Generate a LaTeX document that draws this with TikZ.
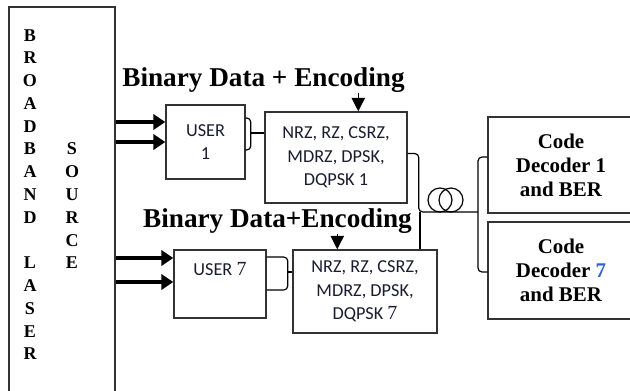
\documentclass[tikz,border=0pt]{standalone}
\usepackage{fontspec}
\setmainfont{Liberation Serif}
\newfontfamily\calibfont{Carlito}
\usepackage{tikz}
\usetikzlibrary{arrows.meta, positioning, calc}
\definecolor{bxline}{HTML}{333333}
\definecolor{encnavy}{HTML}{1A1D30}
\definecolor{decblue}{HTML}{2F62C8}

\begin{document}
\begin{tikzpicture}[x=0.75pt, y=-0.75pt,
  box/.style={draw=bxline, line width=1.1pt, fill=white, inner sep=0pt},
  enctext/.style={font=\calibfont\fontsize{13.7}{17.6}\selectfont, text=encnavy, align=center},
  dectext/.style={font=\bfseries\fontsize{15.7}{18}\selectfont, align=center},
  headline/.style={font=\bfseries\fontsize{20.4}{24}\selectfont, inner sep=0pt},
  lettertext/.style={font=\bfseries\fontsize{13.5}{14}\selectfont, inner sep=0pt},
  fatarrow/.style={line width=3pt, -{Triangle[length=9pt, width=11.5pt]}},
  downarrow/.style={line width=0.8pt, -{Triangle[length=10pt, width=10pt]}},
  wire/.style={line width=0.9pt, rounded corners=3pt}]
  \useasboundingbox (0,0) rectangle (630,390);
  % laser source
  \node[box, minimum width=79.5pt, minimum height=288.75pt] (laser) at (62,199.5) {};
  \foreach \ch [count=\k from 0] in {B,R,O,A,D,B,A,N,D,{},L,A,S,E,R}
    \node[lettertext] (bl\k) at (30,{35.3+22.76*\k}) {\ch};
  \foreach \ch [count=\k from 5] in {S,O,U,R,C,E}
    \node[lettertext] (sr\k) at (72,{35.3+22.76*\k}) {\ch};
  % user blocks
  \node[box, enctext, minimum width=59.25pt, minimum height=55.5pt] (user1) at (205.5,142) {USER\\1};
  \node[box, enctext, minimum width=69pt, minimum height=51pt] (user7) at (220,284) {USER {\rmfamily\fontsize{15}{17.6}\selectfont 7}\\\strut};
  % encoders
  \node[box, enctext, minimum width=106.5pt, minimum height=68.25pt] (enc1) at (336,157.5) {NRZ, RZ, CSRZ,\\MDRZ, DPSK,\\DQPSK 1};
  \node[box, enctext, minimum width=108pt, minimum height=62.25pt] (enc7) at (365,291.5) {NRZ, RZ, CSRZ,\\MDRZ, DPSK,\\DQPSK {\rmfamily\fontsize{15}{17.6}\selectfont 7}};
  % decoders
  \node[box, dectext, minimum width=109.5pt, minimum height=72pt] (dec1) at (561,165) {Code\\Decoder 1\\and BER};
  \node[box, dectext, minimum width=109.5pt, minimum height=72.75pt] (dec7) at (561,270.5) {Code\\Decoder {\color{decblue}7}\\and BER};
  % titles
  \node[headline] (title1) at (263.5,80) {Binary Data + Encoding};
  \node[headline] (title7) at (277.5,221.5) {Binary Data+Encoding};
  \coordinate (tip1) at ($(enc1.north west)+(94,0)$);
  \coordinate (tip7) at ($(enc7.north west)+(45,0)$);
  \draw[downarrow] (tip1 |- title1.south) -- (tip1);
  \draw[downarrow] (tip7 |- title7.south) -- (tip7);
  % laser to users
  \coordinate (u1a) at ($(user1.west)+(0,-20)$);
  \coordinate (u1b) at (user1.west);
  \coordinate (u7a) at ($(user7.west)+(0,-26)$);
  \coordinate (u7b) at ($(user7.west)+(0,-2)$);
  \foreach \p in {u1a,u1b,u7a,u7b}
    \draw[fatarrow] (laser.east |- \p) -- (\p);
  % braces
  \draw[wire] ($(user1.east)+(0,-24)$) -- ++(5,0) -- ++(0,32) -- ++(-5,0);
  \coordinate (br1) at ($(user1.east)+(5,-9)$);
  \draw[wire] (br1) -- (br1 -| enc1.west);
  \draw[wire] ($(user7.east)+(0,-27)$) -- ++(21,0) -- ++(0,33) -- ++(-21,0);
  \coordinate (br7) at ($(user7.east)+(21,-12)$);
  \draw[wire] (br7) -- (br7 -| enc7.west);
  % fibre and splitter
  \coordinate (split) at (478,212);
  \coordinate (out7) at ($(enc7.north)+(55,0)$);
  \draw[wire] ($(enc1.east)+(0,-4)$) -- ($(enc1.east)+(11,-4)$) |- (split);
  \draw[wire] (out7) -- (out7 |- split);
  \draw[wire] ($(dec1.west)+(0,-8)$) -| (split) |- ($(dec7.west)+(0,1.5)$);
  \draw[line width=0.9pt] (440,200) circle[radius=9pt];
  \draw[line width=0.9pt] (451,200) circle[radius=9pt];
\end{tikzpicture}
\end{document}
